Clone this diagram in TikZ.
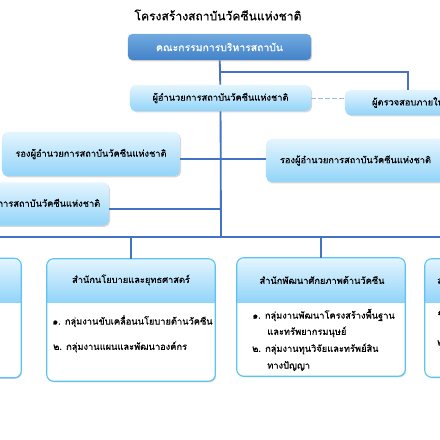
\documentclass[tikz,border=0pt]{standalone}
\usepackage{fontspec}
\newfontfamily\thaifont[Script=Thai, FakeBold=0.6]{Loma}
\usetikzlibrary{positioning, shadows}

\definecolor{lineBlue}{RGB}{68,114,196}
\definecolor{boardTop}{RGB}{112,170,224}
\definecolor{boardBot}{RGB}{68,130,200}
\definecolor{paleTop}{RGB}{228,245,254}
\definecolor{paleBot}{RGB}{146,212,249}
\definecolor{frameBlue}{RGB}{92,196,242}
\definecolor{dashBlue}{RGB}{150,190,232}

\begin{document}
\begin{tikzpicture}[
    x=0.025cm, y=-0.025cm,
    font=\thaifont\fontsize{6.6}{8}\selectfont,
    softShadow/.style={drop shadow={opacity=0.3, shadow xshift=0.8pt, shadow yshift=-1pt}},
    boardbox/.style={
        rectangle,
        rounded corners=3pt,
        minimum width=4.575cm,
        minimum height=0.65cm,
        top color=boardTop,
        bottom color=boardBot,
        text=white,
        font=\thaifont\fontsize{7.4}{9}\selectfont,
        softShadow
    },
    palebox/.style={
        rectangle,
        rounded corners=4pt,
        top color=paleTop,
        bottom color=paleBot,
        text=black,
        softShadow
    },
    framebox/.style={
        rectangle,
        rounded corners=5pt,
        minimum width=4.2cm,
        fill=white,
        softShadow
    },
    headText/.style={inner sep=0pt},
    itemText/.style={inner sep=0pt, anchor=west},
    orgLine/.style={lineBlue, line width=1.3pt},
    auditLine/.style={dashBlue, densely dashed, line width=0.6pt}
]
    \fill[white] (0,0) rectangle (440,440);
    \useasboundingbox (0,0) rectangle (440,440);
    \clip (0,0) rectangle (440,440);

    % Title
    \node[font=\thaifont\fontsize{8.6}{10}\selectfont] (title) at (218,15) {โครงสร้างสถาบันวัคซีนแห่งชาติ};

    % Top levels
    \node[boardbox] (board) at (219.5,47) {คณะกรรมการบริหารสถาบัน};
    \node[palebox, minimum width=4.525cm, minimum height=0.65cm] (director) at (220.5,98) {ผู้อำนวยการสถาบันวัคซีนแห่งชาติ};
    \node[palebox, minimum width=3.15cm, minimum height=0.625cm] (auditor) at (408,102.5) {ผู้ตรวจสอบภายใน};
    \node[palebox, minimum width=4.45cm, minimum height=1.1cm] (deputyL) at (91,154) {รองผู้อำนวยการสถาบันวัคซีนแห่งชาติ};
    \node[palebox, minimum width=4.475cm, minimum height=1.075cm] (deputyR) at (355.5,160.5) {รองผู้อำนวยการสถาบันวัคซีนแห่งชาติ};
    \node[palebox, minimum width=4.4cm, minimum height=1.075cm] (assistant) at (21,204) {ผู้ช่วยผู้อำนวยการสถาบันวัคซีนแห่งชาติ};

    % Spine and branch points
    \coordinate (auditFork) at (221,72);
    \coordinate (deputyFork) at (221,159);
    \coordinate (assistFork) at (221,209);
    \coordinate (busMid) at (221,237);
    \coordinate (busL) at (0,237);
    \coordinate (busR) at (440,237);

    % Office boxes
    \node[framebox, minimum height=2.975cm] (officeA) at (-63,318) {};
    \node[framebox, minimum height=3.05cm] (policy) at (131,320) {};
    \node[framebox, minimum height=2.95cm] (capacity) at (321,317) {};
    \node[framebox, minimum height=2.95cm] (officeD) at (509,318) {};

    % Header bands
    \foreach \office in {officeA, policy, capacity, officeD} {
        \begin{scope}
            \clip[rounded corners=5pt] (\office.north west) rectangle (\office.south east);
            \shade[top color=paleTop, bottom color=paleBot] (\office.north west) rectangle (\office.east |- 0,302);
        \end{scope}
        \draw[frameBlue, line width=0.8pt, rounded corners=5pt] (\office.north west) rectangle (\office.south east);
    }

    \node[headText] (policyHead) at (131,280) {สำนักนโยบายและยุทธศาสตร์};
    \node[headText] (capacityHead) at (322,280) {สำนักพัฒนาศักยภาพด้านวัคซีน};
    \node[headText, anchor=west] (officeDHead) at (437,280) {สำนัก};

    \node[itemText] (policy1) at (52,321) {๑. กลุ่มงานขับเคลื่อนนโยบายด้านวัคซีน};
    \node[itemText] (policy2) at (53,347) {๒. กลุ่มงานแผนและพัฒนาองค์กร};
    \node[itemText] (capacity1) at (252,315) {๑. กลุ่มงานพัฒนาโครงสร้างพื้นฐาน};
    \node[itemText] (capacity1b) at (267,332) {และทรัพยากรมนุษย์};
    \node[itemText] (capacity2) at (252,349) {๒. กลุ่มงานทุนวิจัยและทรัพย์สิน};
    \node[itemText] (capacity2b) at (267,366) {ทางปัญญา};
    \node[itemText] (officeD1) at (437,313) {๑.};
    \node[itemText] (officeD2) at (437,343) {๒.};

    % Connectors
    \draw[orgLine] (board) -- (director);
    \draw[orgLine] (auditFork) -| (auditor);
    \draw[auditLine] (director.east) -- (director.east -| auditor.west);
    \draw[orgLine] (director) -- (busMid);
    \draw[orgLine] (deputyL.east |- deputyFork) -- (deputyR.west |- deputyFork);
    \draw[orgLine] (assistant.east |- assistFork) -- (assistFork);
    \draw[orgLine] (busL) -- (busR);
    \draw[orgLine] (busMid -| policy) -- (policy);
    \draw[orgLine] (busMid -| capacity) -- (capacity);
\end{tikzpicture}
\end{document}
